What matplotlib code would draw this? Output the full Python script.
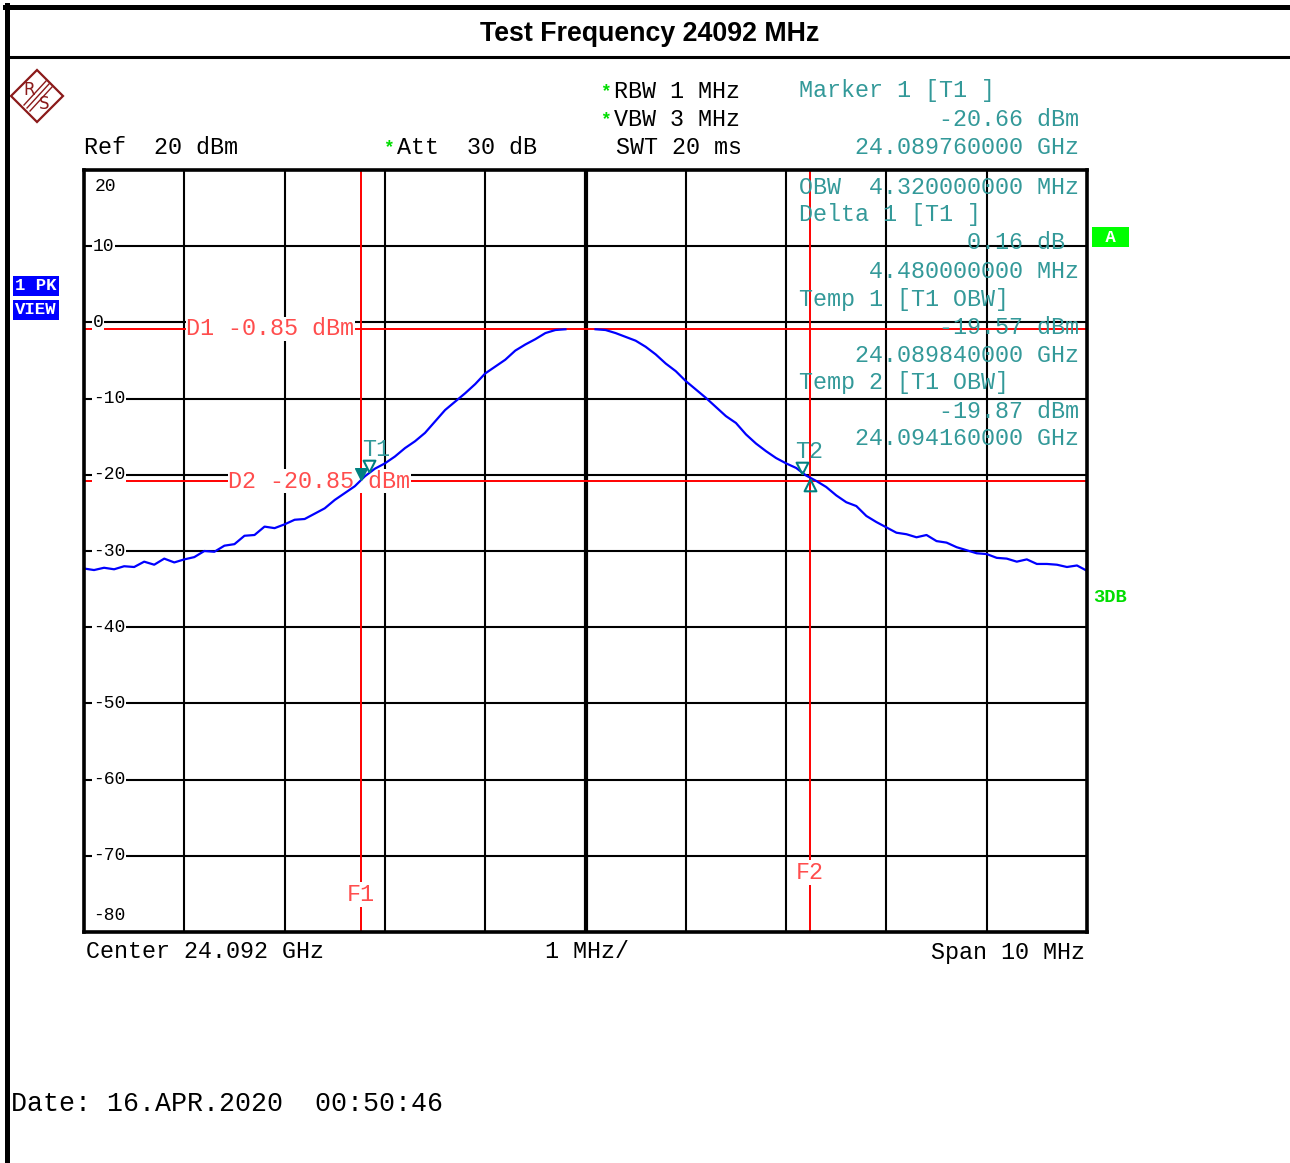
#!/usr/bin/env python3
"""Spectrum analyser screen: occupied bandwidth at 24092 MHz."""
import matplotlib
matplotlib.use("Agg")
import matplotlib.pyplot as plt
import numpy as np
from matplotlib.lines import Line2D
from matplotlib.patches import Polygon

W, H = 1290, 1163
MONO = "Liberation Mono"
TEAL = "#339999"
TEAL_DARK = "#008080"
RED = "#ff0000"
RED_TXT = "#ff4d4d"

# sweep settings
CENTER_GHZ = 24.092
SPAN_MHZ = 10.0
REF_DBM = 20.0
DB_PER_DIV = 10.0
y_ticks = [20, 10, 0, -10, -20, -30, -40, -50, -60, -70, -80]

# trace, 0.1 MHz steps from -5 to +5 MHz around centre (nan = no data drawn)
offset_mhz = np.round(np.arange(-5.0, 5.001, 0.1), 2)
level_dbm = [
    -32.3, -32.5, -32.2, -32.4, -32.0, -32.1, -31.4, -31.8, -31.0, -31.5,
    -31.1, -30.8, -30.0, -30.1, -29.3, -29.1, -28.0, -27.9, -26.8, -27.0,
    -26.5, -25.9, -25.8, -25.1, -24.4, -23.3, -22.4, -21.5, -20.2, -19.2,
    -18.5, -17.6, -16.5, -15.6, -14.5, -13.0, -11.5, -10.4, -9.3, -8.1,
    -6.7, -5.8, -4.9, -3.7, -2.9, -2.2, -1.4, -1.0, -0.9, np.nan,
    np.nan, -0.9, -1.0, -1.4, -1.9, -2.4, -3.2, -4.2, -5.4, -6.4,
    -7.7, -8.8, -9.9, -11.1, -12.3, -13.2, -14.7, -15.9, -16.9, -17.8,
    -18.5, -19.1, -20.1, -20.8, -21.6, -22.7, -23.6, -24.1, -25.4, -26.2,
    -26.9, -27.6, -27.8, -28.2, -27.9, -28.7, -28.9, -29.5, -29.9, -30.3,
    -30.4, -30.9, -31.0, -31.4, -31.1, -31.7, -31.7, -31.8, -32.1, -31.9,
    -32.6,
]

# markers / display lines
t1_ghz, t1_dbm = 24.08976, -20.66
delta_mhz, delta_db = 4.48, 0.16
obw_mhz = 4.32
temp1_ghz, temp1_dbm = 24.08984, -19.57
temp2_ghz, temp2_dbm = 24.09416, -19.87
d1_dbm, d2_dbm = -0.85, -20.85

readout = [
    "OBW  4.320000000 MHz",
    "Delta 1 [T1 ]",
    "            0.16 dB",
    "     4.480000000 MHz",
    "Temp 1 [T1 OBW]",
    "          -19.57 dBm",
    "    24.089840000 GHz",
    "Temp 2 [T1 OBW]",
    "          -19.87 dBm",
    "    24.094160000 GHz",
]


def fx(x):
    return x / W


def fy(y):
    return 1 - y / H


fig = plt.figure(figsize=(W / 100, H / 100), dpi=100)
fig.patch.set_facecolor("white")

# frame around the screen
for xs, ys, lw in [((5, W), (7, 7), 3.6), ((7, 7), (5, H), 3.6), ((7, W), (57, 57), 2.2)]:
    fig.add_artist(Line2D([fx(v) for v in xs], [fy(v) for v in ys], color="black",
                          lw=lw, transform=fig.transFigure))
fig.text(fx(650), fy(34), "Test Frequency 24092 MHz", family="Liberation Sans",
         weight="bold", fontsize=19.3, ha="center", va="center")

# R&S logo
logo_c = "#8b1a1a"
cx, cy, r = 37, 96, 26
fig.add_artist(Polygon([(fx(cx), fy(cy - r)), (fx(cx + r), fy(cy)), (fx(cx), fy(cy + r)),
                        (fx(cx - r), fy(cy))], closed=True, fill=False, ec=logo_c, lw=1.6,
                       transform=fig.transFigure))
for d in (-3, 0, 3):
    fig.add_artist(Line2D([fx(cx + 12 + d), fx(cx - 10 + d)], [fy(cy - 12 + d), fy(cy + 12 + d)],
                          color=logo_c, lw=1.0, transform=fig.transFigure))
fig.text(fx(cx - 8), fy(cy - 6), "R", color=logo_c, fontsize=12, family="DejaVu Sans",
         ha="center", va="center")
fig.text(fx(cx + 7), fy(cy + 8), "S", color=logo_c, fontsize=12, family="DejaVu Sans",
         ha="center", va="center")

# header settings
fs = 16.8
star_kw = dict(family=MONO, fontsize=13, weight="bold", color="#00dd00", va="center")
fig.text(fx(84), fy(147), "Ref  20 dBm", family=MONO, fontsize=fs, va="center")
fig.text(fx(383), fy(148), "*", **star_kw)
fig.text(fx(397), fy(147), "Att  30 dB", family=MONO, fontsize=fs, va="center")
fig.text(fx(600), fy(92), "*", **star_kw)
fig.text(fx(614), fy(91), "RBW 1 MHz", family=MONO, fontsize=fs, va="center")
fig.text(fx(600), fy(120), "*", **star_kw)
fig.text(fx(614), fy(119), "VBW 3 MHz", family=MONO, fontsize=fs, va="center")
fig.text(fx(616), fy(147), "SWT 20 ms", family=MONO, fontsize=fs, va="center")
for i, line in enumerate(["Marker 1 [T1 ]", "          -20.66 dBm", "    24.089760000 GHz"]):
    fig.text(fx(799), fy(91 + 28 * i), line, family=MONO, fontsize=fs, color=TEAL, va="center")

# side labels
box_kw = dict(family=MONO, fontsize=12.5, weight="bold", color="white", va="center")
fig.text(fx(15), fy(286), "1 PK", bbox=dict(fc="#0000ff", ec="none", pad=1.5), **box_kw)
fig.text(fx(15), fy(310), "VIEW", bbox=dict(fc="#0000ff", ec="none", pad=1.5), **box_kw)
fig.text(fx(1095), fy(237), " A ", bbox=dict(fc="#00ff00", ec="none", pad=2), **box_kw)
fig.text(fx(1093), fy(597), "3DB", family=MONO, fontsize=13.5, weight="bold", color="#00dd00",
         va="center")

# plot area
ax = fig.add_axes([fx(84), fy(932), 1003 / W, 762 / H])
f_lo = CENTER_GHZ - SPAN_MHZ / 2000
f_hi = CENTER_GHZ + SPAN_MHZ / 2000
ax.set_xlim(f_lo, f_hi)
ax.set_ylim(REF_DBM - 10 * DB_PER_DIV, REF_DBM)
ax.set_xticks([])
ax.set_yticks([])
for sp in ax.spines.values():
    sp.set_linewidth(2.6)
    sp.set_zorder(6)

for k in range(1, 10):
    f = f_lo + k * SPAN_MHZ / 10000
    ax.axvline(f, color="black", lw=3.0 if k == 5 else 1.5, zorder=1)
for v in y_ticks[1:-1]:
    ax.axhline(v, color="black", lw=1.5, zorder=1)

ylab_tr = ax.get_yaxis_transform()
for v in y_ticks:
    txt = "%d" % v
    if v == y_ticks[0]:
        ax.text(0.011, v - 1.0, txt, transform=ylab_tr, family=MONO, fontsize=13, va="top")
    elif v == y_ticks[-1]:
        ax.text(0.009, v + 1.0, txt, transform=ylab_tr, family=MONO, fontsize=13, va="bottom")
    else:
        ax.text(0.009, v, txt, transform=ylab_tr, family=MONO, fontsize=13, va="center",
                bbox=dict(fc="white", ec="none", pad=0.5), zorder=3)

# display lines and frequency lines
f2_ghz = t1_ghz + delta_mhz / 1000
ax.axhline(d1_dbm, color=RED, lw=1.4, zorder=2)
ax.axhline(d2_dbm, color=RED, lw=1.4, zorder=2)
ax.axvline(t1_ghz, color=RED, lw=1.4, zorder=2)
ax.axvline(f2_ghz, color=RED, lw=1.4, zorder=2)
wbox = dict(fc="white", ec="none", pad=0.5)
ax.text(f_lo + 1.02e-3, d1_dbm, "D1 -0.85 dBm", family=MONO, fontsize=fs, color=RED_TXT,
        va="center", bbox=wbox, zorder=3)
ax.text(f_lo + 1.44e-3, d2_dbm, "D2 -20.85 dBm", family=MONO, fontsize=fs, color=RED_TXT,
        va="center", bbox=wbox, zorder=3)
ax.text(t1_ghz, -75.1, "F1", family=MONO, fontsize=fs, color=RED_TXT, ha="center",
        va="center", bbox=wbox, zorder=3)
ax.text(f2_ghz, -72.2, "F2", family=MONO, fontsize=fs, color=RED_TXT, ha="center",
        va="center", bbox=wbox, zorder=3)

# readout inside the graticule
for i, line in enumerate(readout):
    ax.text(fx(799), fy(187 + 28 * i), line, transform=fig.transFigure, family=MONO,
            fontsize=fs, color=TEAL, va="center", zorder=2.5)

# trace
freq_ghz = CENTER_GHZ + offset_mhz / 1000
ax.plot(freq_ghz, level_dbm, color="#0000ff", lw=1.6, zorder=4)

# markers, tip on the trace
tri_down = [(0, 0), (-0.6, 1.2), (0.6, 1.2), (0, 0)]
tri_up = [(0, 0), (-0.6, -1.2), (0.6, -1.2), (0, 0)]
ax.plot([t1_ghz], [t1_dbm], marker=tri_down, ms=17, color=TEAL_DARK, mec=TEAL_DARK, zorder=5)
ax.plot([temp1_ghz, temp2_ghz], [temp1_dbm, temp2_dbm], ls="none", marker=tri_down, ms=17,
        mfc="none", mec=TEAL_DARK, mew=1.5, zorder=5)
ax.plot([f2_ghz], [t1_dbm + delta_db], marker=tri_up, ms=17, mfc="none", mec=TEAL_DARK,
        mew=1.5, zorder=5)
for lab, fg, lv in [("T1", temp1_ghz, temp1_dbm), ("T2", temp2_ghz, temp2_dbm)]:
    ax.annotate(lab, (fg, lv), xytext=(5, 16), textcoords="offset points", family=MONO,
                fontsize=fs, color=TEAL, ha="center", va="center", zorder=5)

# footer
fig.text(fx(86), fy(952), "Center 24.092 GHz", family=MONO, fontsize=fs, va="center")
fig.text(fx(587), fy(952), "1 MHz/", family=MONO, fontsize=fs, va="center", ha="center")
fig.text(fx(1085), fy(952), "Span 10 MHz", family=MONO, fontsize=fs, va="center", ha="right")
fig.text(fx(11), fy(1104), "Date: 16.APR.2020  00:50:46", family=MONO, fontsize=19.2, va="center")

fig.savefig("out.png", dpi=100)
